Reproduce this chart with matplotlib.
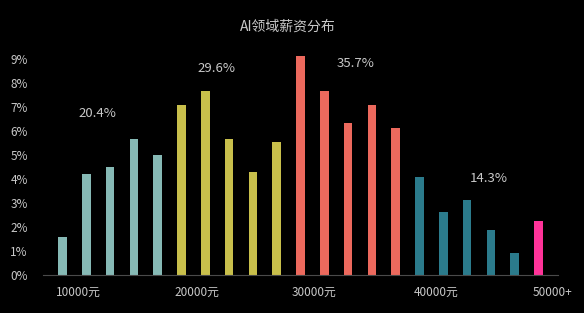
import numpy as np
import matplotlib.pyplot as plt

plt.rcParams['font.family'] = ['Noto Sans CJK SC', 'DejaVu Sans']

# Datos (porcentaje por tramo salarial)
valores = [1.56, 4.19, 4.49, 5.66, 4.99,
           7.08, 7.67, 5.66, 4.30, 5.53,
           9.14, 7.67, 6.35, 7.08, 6.14,
           4.08, 2.63, 3.10, 1.87, 0.91,
           2.25]
grupos = [0]*5 + [1]*5 + [2]*5 + [3]*5 + [4]
colores_grupo = ['#86b9b5', '#c8bf4b', '#ec695d', '#2b7b8c', '#ff3399']

etiquetas_x = ['10000元', '20000元', '30000元', '40000元', '50000+']
pos_etiquetas = [0.65, 5.65, 10.55, 15.7, 20.6]

totales = ['20.4%', '29.6%', '35.7%', '14.3%']
pos_totales = [(1.45, 6.72), (6.45, 8.6), (12.3, 8.81), (17.92, 4.0)]

gris = '#c8c8c8'

fig = plt.figure(figsize=(5.84, 3.13), dpi=100, facecolor='black')
ax = fig.add_axes([0.0736, 0.123, 0.882, 0.7025])
ax.set_facecolor('black')

x = np.arange(len(valores))
ax.bar(x, valores, width=0.36, color=[colores_grupo[g] for g in grupos])

for txt, (px, py) in zip(totales, pos_totales):
    ax.text(px, py, txt, color=gris, fontsize=9.5, ha='center', va='center')

ax.set_xlim(-0.82, 20.82)
ax.set_ylim(0, 9.2)
ax.set_yticks(range(10))
ax.set_yticklabels([f'{i}%' for i in range(10)])
ax.set_xticks(pos_etiquetas)
ax.set_xticklabels(etiquetas_x)
ax.tick_params(axis='y', length=0, pad=11, colors=gris, labelsize=8.5)
ax.tick_params(axis='x', length=0, pad=8, colors=gris, labelsize=8.5)

for lado in ['top', 'right', 'left']:
    ax.spines[lado].set_visible(False)
ax.spines['bottom'].set_color('#4a4a4a')
ax.spines['bottom'].set_linewidth(0.8)

fig.text(0.492, 0.915, 'AI领域薪资分布', color=gris, fontsize=10, ha='center', va='center')

fig.savefig('out.png', dpi=100, facecolor='black')
